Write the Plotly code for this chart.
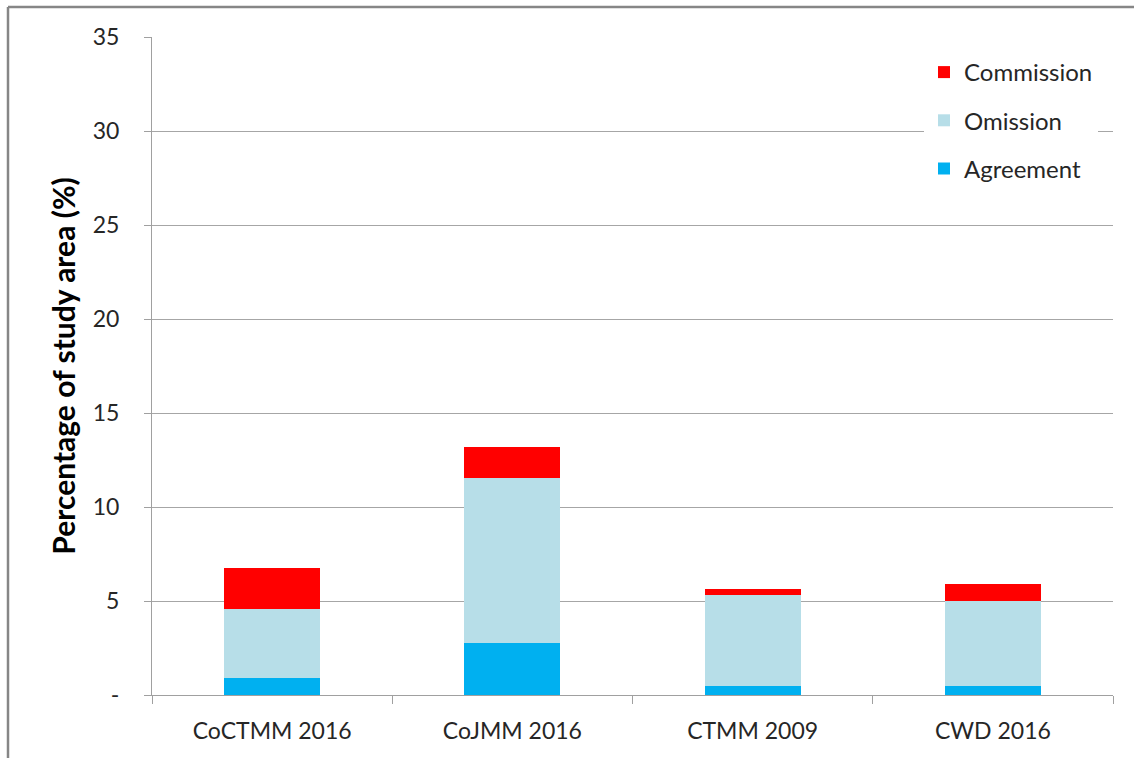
import plotly.graph_objects as go

# Land-cover map comparison: share of the study area by agreement class
categories = ["CoCTMM 2016", "CoJMM 2016", "CTMM 2009", "CWD 2016"]
agreement = [0.9, 2.75, 0.5, 0.5]
omission = [3.67, 8.8, 4.8, 4.5]
commission = [2.2, 1.65, 0.35, 0.9]

y_tickvals = [0, 5, 10, 15, 20, 25, 30, 35]
y_ticktext = ["-", "5", "10", "15", "20", "25", "30", "35"]

FONT = "Lato"
TEXT = "#262626"
GRID = "#a6a6a6"
AXIS = "#a0a0a0"

fig = go.Figure()
series = [
    ("Agreement", agreement, "#00b0f0", 3),
    ("Omission", omission, "#b7dee8", 2),
    ("Commission", commission, "#ff0000", 1),
]
for name, vals, col, rank in series:
    fig.add_trace(go.Bar(
        x=categories, y=vals, name=name, legendgroup=name, legendrank=rank,
        marker=dict(color=col, line=dict(width=0)),
    ))

W, H = 1134, 758
ml, mr, mt, mb = 152, 21, 37, 63
pw, ph = W - ml - mr, H - mt - mb

fig.update_layout(
    width=W, height=H,
    margin=dict(l=ml, r=mr, t=mt, b=mb, pad=0),
    barmode="stack", bargap=0.6,
    paper_bgcolor="white", plot_bgcolor="white",
    font=dict(family=FONT, size=23, color=TEXT),
    showlegend=True,
    legend=dict(
        x=(924 - ml) / pw, xanchor="left",
        y=1 - (50 - mt) / ph, yanchor="top",
        bgcolor="white", borderwidth=0,
        traceorder="grouped", tracegroupgap=14,
        font=dict(family=FONT, size=24, color=TEXT),
    ),
    xaxis=dict(
        type="category", tickson="boundaries",
        ticks="outside", ticklen=8, tickcolor=AXIS, tickwidth=1,
        showline=True, linecolor=AXIS, linewidth=1,
        showgrid=False,
        tickfont=dict(family=FONT, size=23, color=TEXT),
        ticklabelstandoff=15,
    ),
    yaxis=dict(
        range=[0, 35], tickvals=y_tickvals, ticktext=y_ticktext,
        ticks="outside", ticklen=7, tickcolor=AXIS, tickwidth=1,
        showline=True, linecolor=AXIS, linewidth=1,
        showgrid=True, gridcolor=GRID, gridwidth=1,
        zeroline=False,
        tickfont=dict(family=FONT, size=23, color=TEXT),
        ticklabelstandoff=20,
        title=dict(text="<b>Percentage of study area (%)</b>",
                   font=dict(family=FONT, size=30, color="black"),
                   standoff=8),
    ),
)

# Outer chart frame (top and left edges)
x_left = (8 - ml) / pw
x_right = (W + 5 - ml) / pw
y_top = 1 + (mt - 7) / ph
y_bot = -(mb + 5) / ph
fig.add_shape(type="line", xref="paper", yref="paper",
              x0=x_left, x1=x_right, y0=y_top, y1=y_top,
              line=dict(color="#868686", width=2.5))
fig.add_shape(type="line", xref="paper", yref="paper",
              x0=x_left, x1=x_left, y0=y_top, y1=y_bot,
              line=dict(color="#868686", width=2.5))

fig.write_html("out.html")
